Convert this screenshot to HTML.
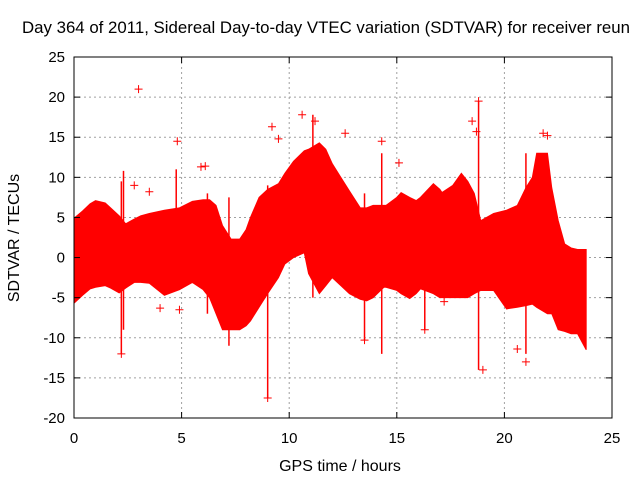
<!DOCTYPE html>
<html><head><meta charset="utf-8"><style>
body{margin:0;background:#fff}
svg text{font-family:"Liberation Sans",sans-serif;fill:#000}
</style></head><body>
<svg id="chart" width="640" height="480" xmlns="http://www.w3.org/2000/svg">
<text x="326" y="33" font-size="16.5" text-anchor="middle" textLength="608" lengthAdjust="spacingAndGlyphs">Day 364 of 2011, Sidereal Day-to-day VTEC variation (SDTVAR) for receiver reun</text>
<text x="340" y="471" font-size="16" text-anchor="middle">GPS time / hours</text>
<text transform="translate(19,238) rotate(-90)" font-size="16" text-anchor="middle">SDTVAR / TECUs</text>
<g id="grid"></g><g id="data"></g><g id="axes"></g>
</svg>
<script>
const xTicks=[0,5,10,15,20,25];
const yTicks=[25,20,15,10,5,0,-5,-10,-15,-20];
const hours=[0,0.4,0.75,1,1.45,1.7,2.1,2.4,2.8,3.1,3.5,4.2,4.9,5.5,6,6.3,6.6,6.9,7.3,7.7,8,8.2,8.6,9,9.5,9.8,10.2,10.7,10.9,11.4,11.7,12,12.4,12.8,13.3,13.6,13.9,14.4,14.5,15,15.2,15.6,15.9,16.1,16.7,17,17.1,17.6,18,18.3,18.6,18.9,19.5,20.1,20.6,21,21.3,21.5,22,22.2,22.5,22.8,23.1,23.4,23.8];
const upper=[4.9,5.8,6.7,7.1,6.8,6.2,5.2,4.2,4.8,5.2,5.5,5.9,6.2,7,7.2,7.2,6.5,4,2.3,2.3,3.5,5,7.5,8.5,9.2,10.5,12,13.3,13.5,14.3,13.5,11.7,10,8.3,6.2,6.2,6.5,6.5,6.5,7.5,8.1,7.5,7.1,7.5,9.2,8.5,8.1,9,10.5,9.5,8,4.6,5.5,5.9,6.5,8.7,10,13,13,8.7,4.6,1.7,1.2,1,1];
const lower=[-5.7,-4.7,-3.9,-3.7,-3.5,-3.8,-4.4,-3.8,-3.1,-3.1,-3.2,-4.7,-4,-3.1,-4,-5,-7,-9,-9,-9,-8.5,-7.9,-6.2,-4.5,-2.5,-0.8,0,0.6,-2,-4.5,-3.5,-2.5,-3.5,-4.5,-5.2,-5.4,-5,-3.7,-3.7,-4.1,-4.5,-5.1,-4.5,-3.9,-4.5,-5,-5,-5,-5,-5,-4.5,-4.1,-4.1,-6.4,-6.2,-6,-5.8,-6.2,-7,-7,-9,-9.2,-9.5,-9.5,-11.5];
const outX=[3,9.2,9.5,10.6,11.2,12.6,18.5,18.8,18.7,4.8,5.9,6.1,2.8,3.5,9,19,21,2.2,20.6,13.5,14.3,15.1,16.3,17.2,4,4.9,21.8,22];
const outY=[21,16.3,14.8,17.8,17,15.5,17,19.5,15.7,14.5,11.3,11.4,9,8.2,-17.5,-14,-13,-12,-11.4,-10.3,14.5,11.8,-9,-5.5,-6.3,-6.5,15.5,15.2];
const spikeX=[2.2,2.3,4.75,6.2,7.2,9,11.1,13.5,14.3,16.3,18.8,21];
const spikeLo=[-12,-9,-1,-7,-11,-17.5,-5,-10.3,-12,-9,-14,-12];
const spikeHi=[9.5,10.8,11,8,7.5,9,17.8,8,13,8,19.5,13];
const L=74,R=612,T=57,B=418;
const xs=v=>L+(v-0)/25*(R-L), ys=v=>B-(v+20)/45*(B-T);
const NS="http://www.w3.org/2000/svg";
function mk(p,t,a){const e=document.createElementNS(NS,t);for(const k in a)e.setAttribute(k,a[k]);p.appendChild(e);return e;}
const g=document.getElementById('grid'),d=document.getElementById('data'),ax=document.getElementById('axes');
xTicks.forEach(v=>{
 if(v>0&&v<25){const l=mk(g,'line',{x1:xs(v),x2:xs(v),y1:T,y2:B,stroke:'#a0a0a0','stroke-dasharray':'2,3'});
 
 }
 const t=mk(ax,'text',{x:xs(v),y:B+25,'font-size':15,'text-anchor':'middle'});t.textContent=v;
 
 
 mk(ax,'line',{x1:xs(v),x2:xs(v),y1:B,y2:B-6,stroke:'#000'});mk(ax,'line',{x1:xs(v),x2:xs(v),y1:T,y2:T+6,stroke:'#000'});
});
yTicks.forEach(v=>{
 if(v>-20&&v<25){const l=mk(g,'line',{x1:L,x2:R,y1:ys(v),y2:ys(v),stroke:'#a0a0a0','stroke-dasharray':'2,3'});
 
 }
 const t=mk(ax,'text',{x:L-9,y:ys(v)+5,'font-size':15,'text-anchor':'end'});t.textContent=v;
 
 
 mk(ax,'line',{x1:L,x2:L+6,y1:ys(v),y2:ys(v),stroke:'#000'});mk(ax,'line',{x1:R,x2:R-6,y1:ys(v),y2:ys(v),stroke:'#000'});
});
const fr=mk(ax,'rect',{x:L,y:T,width:R-L,height:B-T,fill:'none',stroke:'#000','stroke-width':1});


let pts=hours.map((h,i)=>xs(h)+','+ys(upper[i]));
for(let i=hours.length-1;i>=0;i--)pts.push(xs(hours[i])+','+ys(lower[i]));
const band=mk(d,'polygon',{points:pts.join(' '),fill:'#ff0000',stroke:'#ff0000','stroke-width':1});


spikeX.forEach((x,i)=>{
 const l=mk(d,'line',{x1:xs(x),x2:xs(x),y1:ys(spikeLo[i]),y2:ys(spikeHi[i]),stroke:'#ff0000','stroke-width':1.5});
 
 
});
outX.forEach((x,i)=>{
 const cx=xs(x),cy=ys(outY[i]);
 const p=mk(d,'path',{d:`M${cx-4} ${cy}H${cx+4}M${cx} ${cy-4}V${cy+4}`,stroke:'#ff0000','stroke-width':1});
 
 
});
</script>
</body></html>
